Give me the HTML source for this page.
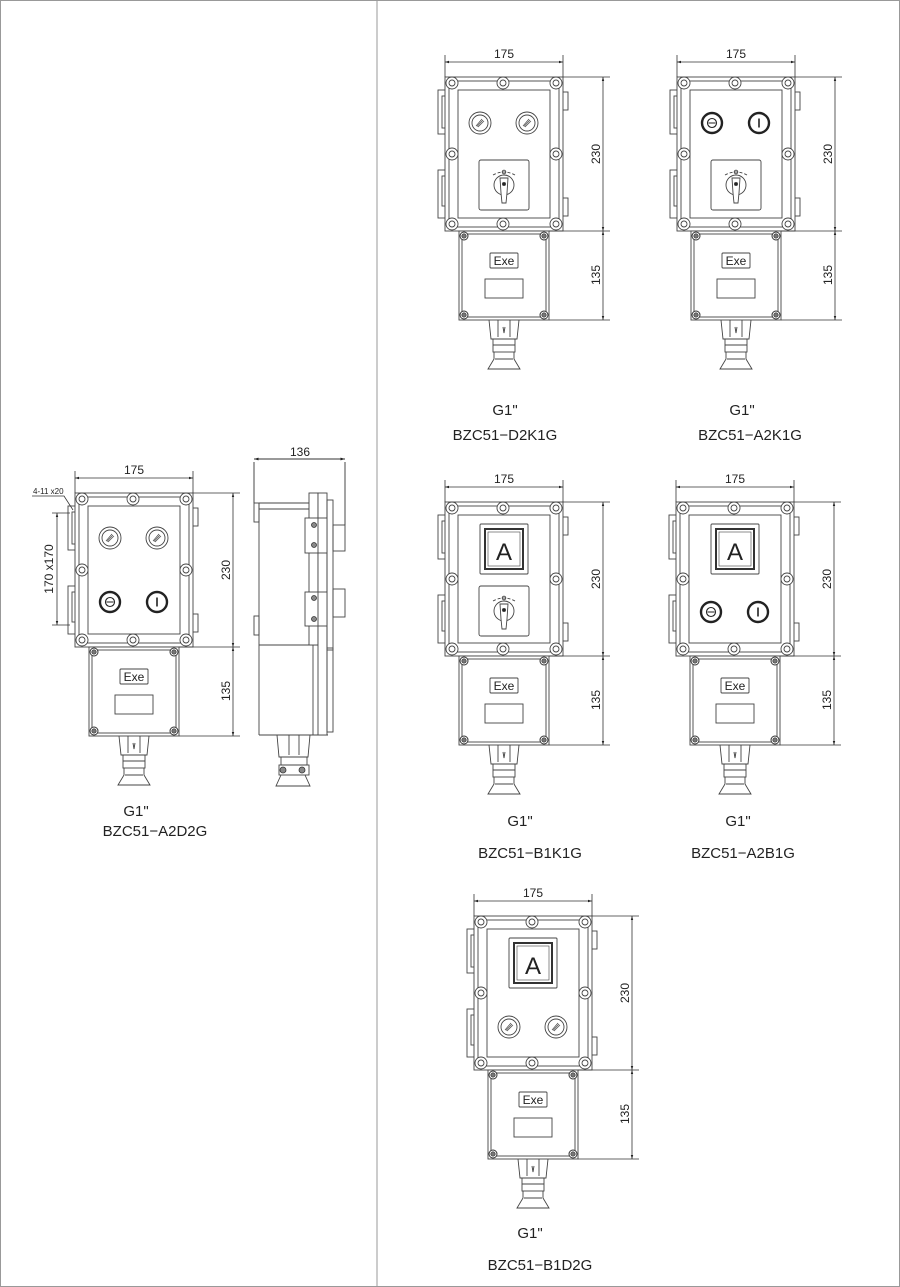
<!DOCTYPE html>
<html><head><meta charset="utf-8"><style>
html,body{margin:0;padding:0;background:#fff;}
svg{display:block;}
text{font-family:"Liberation Sans",sans-serif;fill:#222;}
</style></head><body>
<svg width="900" height="1287" viewBox="0 0 900 1287" xmlns="http://www.w3.org/2000/svg">
<defs>
<g id="bolt"><circle r="6" fill="#fff" stroke="#444" stroke-width="0.9"/><circle r="3" fill="#fff" stroke="#444" stroke-width="0.9"/></g>
<g id="sbolt"><circle r="4" fill="#fff" stroke="#333" stroke-width="1"/><circle r="2.2" fill="#777" stroke="#333" stroke-width="0.7"/></g>
<marker id="ar" viewBox="0 0 10 10" refX="10" refY="5" markerWidth="9" markerHeight="5" orient="auto-start-reverse"><path d="M0,2 L10,5 L0,8 z" fill="#222"/></marker>
<g id="dev" fill="none" stroke="#444" stroke-width="0.9">
  <rect x="-7" y="13" width="8" height="44" fill="#fff"/>
  <rect x="-3" y="19" width="10" height="32" fill="#fff"/>
  <circle cx="2" cy="28" r="1.2" fill="#333"/><circle cx="2" cy="42" r="1.2" fill="#333"/>
  <rect x="-7" y="93" width="8" height="48" fill="#fff"/>
  <rect x="-3" y="99" width="10" height="30" fill="#fff"/>
  <circle cx="2" cy="108" r="1.2" fill="#333"/><circle cx="2" cy="120" r="1.2" fill="#333"/>
  <rect x="117" y="15" width="6" height="18" fill="#fff"/>
  <rect x="117" y="121" width="6" height="18" fill="#fff"/>
  <rect x="0" y="0" width="118" height="154" fill="#fff"/>
  <rect x="4" y="4" width="110" height="146"/>
  <rect x="13" y="13" width="92" height="128"/>
  <use href="#bolt" x="7" y="6"/><use href="#bolt" x="58" y="6"/><use href="#bolt" x="111" y="6"/>
  <use href="#bolt" x="7" y="77"/><use href="#bolt" x="111" y="77"/>
  <use href="#bolt" x="7" y="147"/><use href="#bolt" x="58" y="147"/><use href="#bolt" x="111" y="147"/>
  <rect x="14" y="154" width="90" height="89" fill="#fff"/>
  <rect x="17" y="157" width="84" height="83"/>
  <use href="#sbolt" x="19" y="159"/><use href="#sbolt" x="99" y="159"/>
  <use href="#sbolt" x="19" y="238"/><use href="#sbolt" x="99" y="238"/>
  <rect x="45" y="176" width="28" height="15" rx="1"/>
  <rect x="40" y="202" width="38" height="19"/>
  <path d="M44,243 L46,262 L72,262 L74,243"/>
  <path d="M53,243 L53,260 M65,243 L65,260 M58,250 L59,256 L60,250"/>
  <rect x="48" y="262" width="22" height="13"/>
  <line x1="48" y1="268" x2="70" y2="268"/>
  <path d="M49,275 L49,282 L43,292 L75,292 L69,282 L69,275"/>
  <line x1="50" y1="282" x2="68" y2="282"/>
</g>
<g id="dims" fill="none" stroke="#333" stroke-width="0.8">
  <line x1="0" y1="-22" x2="0" y2="0"/><line x1="118" y1="-22" x2="118" y2="0"/>
  <line x1="0" y1="-15" x2="118" y2="-15" marker-start="url(#ar)" marker-end="url(#ar)"/>
  <line x1="118" y1="0" x2="165" y2="0"/>
  <line x1="104" y1="154" x2="165" y2="154"/>
  <line x1="104" y1="243" x2="165" y2="243"/>
  <line x1="158" y1="0" x2="158" y2="154" marker-start="url(#ar)" marker-end="url(#ar)"/>
  <line x1="158" y1="154" x2="158" y2="243" marker-start="url(#ar)" marker-end="url(#ar)"/>
</g>
<g id="lamp" fill="none" stroke="#444" stroke-width="0.9">
  <circle r="11" fill="#fff"/><circle r="8"/>
  <path d="M-4,3 L2,-4 M-2,4 L4,-2 M-3,3.5 L3,-3" stroke-width="0.7"/>
</g>
<g id="bo" fill="none" stroke="#222"><circle r="10" stroke-width="2.4" fill="#fff"/><circle r="4.5" stroke-width="1.1"/><line x1="-3.5" y1="0" x2="3.5" y2="0" stroke-width="1"/></g>
<g id="bi" fill="none" stroke="#222"><circle r="10" stroke-width="2.4" fill="#fff"/><line x1="0" y1="-4.5" x2="0" y2="4.5" stroke-width="1.6"/></g>
<g id="sw" fill="none" stroke="#444" stroke-width="0.9">
  <rect x="0" y="0" width="50" height="50" rx="2" fill="#fff"/>
  <path d="M14,15 Q25,9 36,15" stroke-dasharray="3 2"/>
  <circle cx="25" cy="12" r="1.8"/>
  <circle cx="25" cy="25" r="10"/>
  <path d="M21,18 L29,18 L28,33 L27,43 L23,43 L22,33 Z" fill="#fff"/>
  <circle cx="25" cy="24" r="1.6" fill="#222"/>
</g>
<g id="am" fill="none" stroke="#444" stroke-width="0.9">
  <rect x="0" y="0" width="48" height="50" rx="1" fill="#fff"/>
  <rect x="5" y="5" width="38" height="40" stroke-width="2" stroke="#333"/>
  <rect x="8" y="8" width="32" height="34" stroke-width="0.6"/>
</g>
</defs>

<rect x="0.5" y="0.5" width="899" height="1286" fill="none" stroke="#999"/>
<line x1="377" y1="0" x2="377" y2="1287" stroke="#999"/>

<g transform="translate(445,77)">
  <use href="#dev"/><use href="#dims"/>
  <use href="#lamp" x="35" y="46"/><use href="#lamp" x="82" y="46"/>
  <use href="#sw" x="34" y="83"/>
  <text x="59" y="188" font-size="12" text-anchor="middle">Exe</text>
  <text x="59" y="-19" font-size="12" text-anchor="middle">175</text>
  <text transform="translate(155,77) rotate(-90)" font-size="12" text-anchor="middle">230</text>
  <text transform="translate(155,198) rotate(-90)" font-size="12" text-anchor="middle">135</text>
</g>
<g transform="translate(677,77)">
  <use href="#dev"/><use href="#dims"/>
  <use href="#bo" x="35" y="46"/><use href="#bi" x="82" y="46"/>
  <use href="#sw" x="34" y="83"/>
  <text x="59" y="188" font-size="12" text-anchor="middle">Exe</text>
  <text x="59" y="-19" font-size="12" text-anchor="middle">175</text>
  <text transform="translate(155,77) rotate(-90)" font-size="12" text-anchor="middle">230</text>
  <text transform="translate(155,198) rotate(-90)" font-size="12" text-anchor="middle">135</text>
</g>
<g transform="translate(445,502)">
  <use href="#dev"/><use href="#dims"/>
  <use href="#am" x="35" y="22"/>
  <text x="59" y="58" font-size="24" text-anchor="middle">A</text>
  <use href="#sw" x="34" y="84"/>
  <text x="59" y="188" font-size="12" text-anchor="middle">Exe</text>
  <text x="59" y="-19" font-size="12" text-anchor="middle">175</text>
  <text transform="translate(155,77) rotate(-90)" font-size="12" text-anchor="middle">230</text>
  <text transform="translate(155,198) rotate(-90)" font-size="12" text-anchor="middle">135</text>
</g>
<g transform="translate(676,502)">
  <use href="#dev"/><use href="#dims"/>
  <use href="#am" x="35" y="22"/>
  <text x="59" y="58" font-size="24" text-anchor="middle">A</text>
  <use href="#bo" x="35" y="110"/><use href="#bi" x="82" y="110"/>
  <text x="59" y="188" font-size="12" text-anchor="middle">Exe</text>
  <text x="59" y="-19" font-size="12" text-anchor="middle">175</text>
  <text transform="translate(155,77) rotate(-90)" font-size="12" text-anchor="middle">230</text>
  <text transform="translate(155,198) rotate(-90)" font-size="12" text-anchor="middle">135</text>
</g>
<g transform="translate(474,916)">
  <use href="#dev"/><use href="#dims"/>
  <use href="#am" x="35" y="22"/>
  <text x="59" y="58" font-size="24" text-anchor="middle">A</text>
  <use href="#lamp" x="35" y="111"/><use href="#lamp" x="82" y="111"/>
  <text x="59" y="188" font-size="12" text-anchor="middle">Exe</text>
  <text x="59" y="-19" font-size="12" text-anchor="middle">175</text>
  <text transform="translate(155,77) rotate(-90)" font-size="12" text-anchor="middle">230</text>
  <text transform="translate(155,198) rotate(-90)" font-size="12" text-anchor="middle">135</text>
</g>
<g transform="translate(75,493)">
  <use href="#dev"/><use href="#dims"/>
  <use href="#lamp" x="35" y="45"/><use href="#lamp" x="82" y="45"/>
  <use href="#bo" x="35" y="109"/><use href="#bi" x="82" y="109"/>
  <text x="59" y="188" font-size="12" text-anchor="middle">Exe</text>
  <text x="59" y="-19" font-size="12" text-anchor="middle">175</text>
  <text transform="translate(155,77) rotate(-90)" font-size="12" text-anchor="middle">230</text>
  <text transform="translate(155,198) rotate(-90)" font-size="12" text-anchor="middle">135</text>
</g>
<g fill="none" stroke="#333" stroke-width="0.8">
  <line x1="57" y1="513" x2="57" y2="625" marker-start="url(#ar)" marker-end="url(#ar)"/>
  <line x1="52" y1="513" x2="70" y2="513"/><line x1="52" y1="625" x2="70" y2="625"/>
  <path d="M32,496 L64,496 L73,510"/>
</g>
<text x="33" y="494" font-size="8">4-11  x20</text>
<text transform="translate(53,569) rotate(-90)" font-size="12" text-anchor="middle">170 x170</text>

<g fill="none" stroke="#444" stroke-width="0.9">
  <line x1="254" y1="462" x2="254" y2="503" stroke="#333"/>
  <line x1="345" y1="462" x2="345" y2="525" stroke="#333"/>
  <line x1="254" y1="459" x2="345" y2="459" stroke="#333" marker-start="url(#ar)" marker-end="url(#ar)"/>
  <rect x="254" y="503" width="5" height="19" fill="#fff"/>
  <rect x="254" y="616" width="5" height="19" fill="#fff"/>
  <line x1="259" y1="503" x2="259" y2="735"/>
  <line x1="259" y1="503" x2="313" y2="503"/>
  <line x1="259" y1="509" x2="309" y2="509"/>
  <line x1="259" y1="645" x2="318" y2="645"/>
  <line x1="259" y1="735" x2="328" y2="735"/>
  <rect x="309" y="493" width="9" height="152" fill="#fff"/>
  <rect x="318" y="493" width="9" height="242" fill="#fff"/>
  <line x1="313" y1="645" x2="313" y2="735"/>
  <rect x="327" y="500" width="6" height="150"/>
  <rect x="327" y="648" width="6" height="84"/>
  <rect x="333" y="525" width="12" height="26"/>
  <rect x="333" y="589" width="12" height="28"/>
  <rect x="305" y="518" width="22" height="35" fill="#fff"/>
  <line x1="318" y1="518" x2="318" y2="553"/>
  <rect x="305" y="592" width="22" height="34" fill="#fff"/>
  <line x1="318" y1="592" x2="318" y2="626"/>
  <path d="M277,735 L279,757 L308,757 L310,735"/>
  <line x1="289" y1="735" x2="289" y2="755"/><line x1="299" y1="735" x2="299" y2="755"/>
  <rect x="281" y="757" width="26" height="8"/>
  <rect x="279" y="765" width="30" height="10"/>
  <path d="M281,775 L276,786 L310,786 L305,775"/>
</g>
<g fill="#888" stroke="#333" stroke-width="0.8">
  <circle cx="314" cy="525" r="2.5"/><circle cx="314" cy="545" r="2.5"/>
  <circle cx="314" cy="598" r="2.5"/><circle cx="314" cy="619" r="2.5"/>
  <circle cx="283" cy="770" r="3"/><circle cx="302" cy="770" r="3"/>
</g>
<text x="300" y="456" font-size="12" text-anchor="middle">136</text>

<g font-size="15">
<text x="505" y="415" text-anchor="middle">G1"</text>
<text x="505" y="440" text-anchor="middle">BZC51−D2K1G</text>
<text x="742" y="415" text-anchor="middle">G1"</text>
<text x="750" y="440" text-anchor="middle">BZC51−A2K1G</text>
<text x="520" y="826" text-anchor="middle">G1"</text>
<text x="530" y="858" text-anchor="middle">BZC51−B1K1G</text>
<text x="738" y="826" text-anchor="middle">G1"</text>
<text x="743" y="858" text-anchor="middle">BZC51−A2B1G</text>
<text x="530" y="1238" text-anchor="middle">G1"</text>
<text x="540" y="1270" text-anchor="middle">BZC51−B1D2G</text>
<text x="136" y="816" text-anchor="middle">G1"</text>
<text x="155" y="836" text-anchor="middle">BZC51−A2D2G</text>
</g>
</svg>
</body></html>
